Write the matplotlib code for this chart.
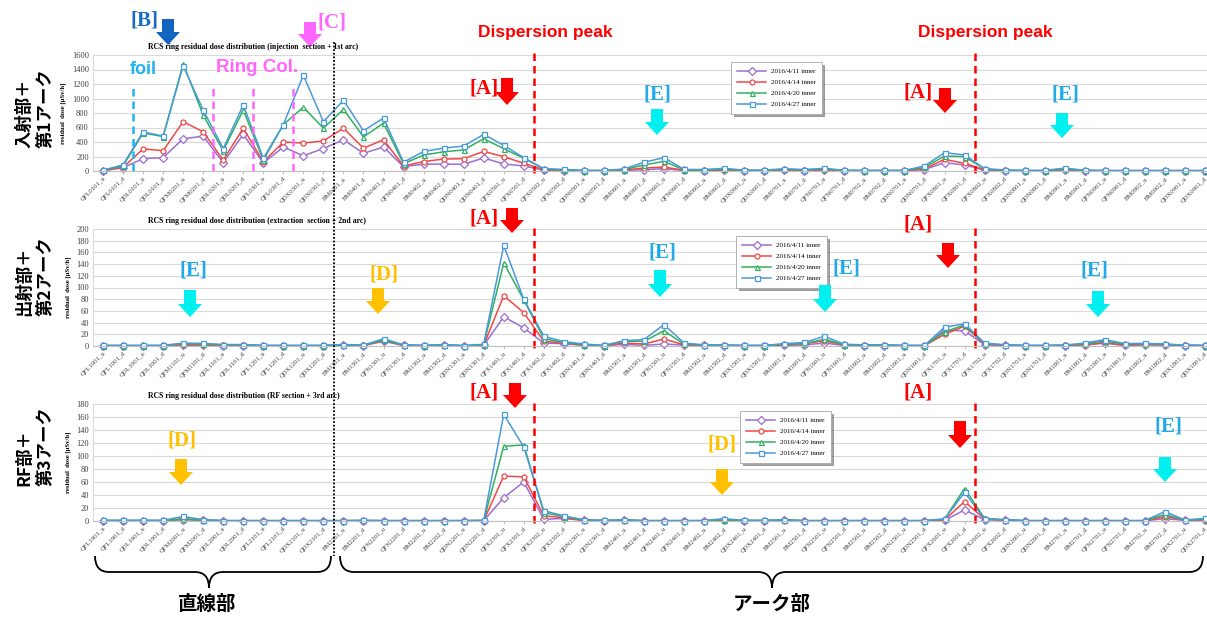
import matplotlib
matplotlib.use('Agg')
import matplotlib.pyplot as plt
from matplotlib.patches import Polygon, PathPatch
from matplotlib.path import Path
import numpy as np

plt.rcParams['font.family'] = ['Liberation Serif', 'DejaVu Serif']

W, H = 1207, 617

# magnet layout of one superperiod; {0}..{8} are the sector numbers
MAGNETS = ['QFL{0}01', 'QDL{0}01', 'QFM{1}01', 'QDL{1}01', 'QFL{2}01', 'QDX{2}01',
           'BM{3}01', 'QFN{3}01', 'BM{3}02', 'QDN{3}01', 'QFX{4}01', 'QFX{4}02',
           'QDN{4}01', 'BM{5}01', 'QFN{5}01', 'BM{5}02', 'QDX{5}01', 'BM{6}01',
           'QFN{6}01', 'BM{6}02', 'QDN{6}01', 'QFX{7}01', 'QFX{7}02', 'QDN{7}01',
           'BM{8}01', 'QFN{8}01', 'BM{8}02', 'QDX{8}01']


def make_labels(first_sector):
    secs = ['%02d' % (first_sector + i) for i in range(9)]
    out = []
    for m in MAGNETS:
        name = m.format(*secs)
        out += [name + '_u', name + '_d']
    return out


labels_inj = make_labels(1)
labels_ext = make_labels(10)
labels_rf = make_labels(19)

series_names = ['2016/4/11 inner', '2016/4/14 inner', '2016/4/20 inner', '2016/4/27 inner']
colors = ['#9B6FCF', '#F04848', '#30B060', '#4A9AD8']
markers = ['D', 'o', '^', 's']

# injection section + 1st arc [uSv/h]
inj_0411 = [5, 45, 170, 185, 445, 480, 115, 505, 110, 330, 210, 310, 430, 245, 330, 60,
            95, 95, 92, 180, 97, 69, 12, 5, 3, 3, 8, 18, 32, 8, 6, 10, 4, 4, 10, 6,
            12, 4, 3, 3, 3, 20, 115, 83, 12, 5, 3, 3, 12, 4, 3, 3, 3, 3, 3, 3]
inj_0414 = [5, 50, 305, 280, 680, 540, 150, 590, 125, 400, 385, 415, 590, 315, 430, 70,
            130, 165, 170, 270, 198, 106, 18, 8, 5, 4, 12, 41, 55, 10, 8, 15, 6, 6, 15, 10,
            18, 6, 5, 5, 4, 30, 160, 106, 18, 8, 4, 4, 25, 6, 4, 4, 4, 4, 4, 4]
inj_0420 = [8, 70, 525, 475, 1480, 770, 280, 840, 150, 640, 880, 590, 850, 470, 660, 100,
            220, 265, 290, 445, 308, 175, 28, 12, 6, 6, 18, 83, 133, 15, 12, 25, 8, 8, 22, 15,
            28, 8, 6, 6, 6, 50, 207, 198, 28, 10, 6, 6, 30, 8, 5, 5, 5, 5, 5, 5]
inj_0427 = [10, 85, 540, 480, 1450, 840, 310, 910, 175, 640, 1320, 680, 975, 555, 730, 120,
            270, 315, 345, 505, 354, 184, 32, 22, 8, 8, 28, 120, 184, 22, 20, 37, 12, 12, 32, 20,
            37, 10, 8, 8, 8, 69, 253, 221, 32, 14, 8, 8, 40, 10, 7, 7, 7, 7, 7, 7]

# extraction section + 2nd arc
ext_0411 = [0.5, 0.5, 0.5, 0.5, 1, 1, 0.8, 0.8, 0.5, 0.5, 0.5, 0.5, 1, 0.8, 8, 1,
            0.5, 1, 0.3, 1, 50, 31, 5, 4, 1, 0.5, 3, 1, 3.5, 1.5, 1, 0.8, 0.5, 0.5, 1, 2,
            5, 1, 0.8, 0.8, 0.5, 0.5, 27, 26, 2, 1, 0.5, 0.5, 0.8, 1.5, 5, 1, 2, 1.5, 0.8, 0.5]
ext_0414 = [0.5, 0.5, 0.5, 0.5, 2, 1.5, 1, 1, 0.5, 0.5, 0.5, 0.5, 1, 1, 9, 1.2,
            0.6, 1.5, 0.4, 1.2, 86, 57, 8, 5, 1.5, 0.6, 5, 3.5, 12, 2, 1, 1, 0.6, 0.6, 2, 4,
            9, 1.5, 1, 1, 0.6, 0.6, 20, 34, 3, 1.5, 0.6, 0.6, 1, 2, 6, 1, 3, 2, 1, 0.6]
ext_0420 = [0.8, 0.8, 0.8, 0.8, 4, 3, 2, 2, 0.8, 0.8, 0.8, 0.8, 2, 1.2, 10, 1.5,
            0.8, 2, 0.5, 2, 142, 79, 12.5, 6, 2, 0.8, 8, 8, 26, 3, 1.5, 1.2, 0.8, 0.8, 3, 4,
            11.5, 2, 1.5, 1.5, 0.8, 0.8, 24, 36, 4, 2, 0.8, 0.8, 1.2, 3.5, 8.5, 3, 4, 3, 1.2, 0.8]
ext_0427 = [1, 1, 1, 1, 5, 4.5, 2.5, 2.5, 1, 1, 1, 1, 2.5, 1.5, 12.5, 2,
            1, 2.5, 0.6, 3, 172, 80, 16.5, 7.5, 3.5, 1, 9, 11, 36.5, 5, 2, 1.5, 1, 1, 4, 6,
            16.5, 3, 2, 2, 1, 1, 32, 38, 5, 2, 1, 1, 1.5, 5, 11, 4, 4.5, 3.5, 1.5, 1]

# RF section + 3rd arc
rf_0411 = [0.5, 0.5, 0.5, 0.5, 2, 1, 0.3, 0.3, 0.3, 0.3, 0.3, 0.3, 0.3, 0.5, 0.3, 0.3,
           0.3, 0.3, 0.3, 0.5, 36, 60, 2.6, 4, 0.8, 0.5, 0.8, 0.3, 0.3, 0.3, 0.3, 1, 0.5, 0.5,
           1, 0.3, 0.3, 0.3, 0.3, 0.3, 0.3, 0.3, 1, 17, 2, 1, 0.3, 0.3, 0.3, 0.3, 0.3, 0.3,
           0.3, 3.6, 1, 1.5]
rf_0414 = [0.5, 0.5, 0.5, 0.5, 3.5, 1.5, 0.4, 0.4, 0.4, 0.4, 0.4, 0.4, 0.4, 0.6, 0.4, 0.4,
           0.4, 0.4, 0.4, 0.6, 69, 68, 8, 5, 1, 0.6, 1, 0.4, 0.4, 0.4, 0.4, 1.5, 0.6, 0.6,
           1, 0.4, 0.4, 0.4, 0.4, 0.4, 0.4, 0.4, 1.5, 30, 3, 1.5, 0.4, 0.4, 0.4, 0.4, 0.4, 0.4,
           0.4, 6.7, 2, 2]
rf_0420 = [0.8, 0.8, 0.8, 0.8, 2.6, 1.5, 0.5, 0.5, 0.5, 0.5, 0.5, 0.5, 0.5, 0.8, 0.5, 0.5,
           0.5, 0.5, 0.5, 0.8, 115, 117, 13, 6.7, 1.5, 0.8, 1.5, 0.5, 0.5, 0.5, 0.5, 2, 0.8, 0.8,
           1.5, 0.5, 0.5, 0.5, 0.5, 0.5, 0.5, 0.5, 3, 50, 4, 2, 0.5, 0.5, 0.5, 0.5, 0.5, 0.5,
           0.5, 10, 1.5, 3]
rf_0427 = [1, 1, 1, 1, 7, 2, 0.7, 0.7, 0.7, 0.7, 0.7, 0.7, 0.7, 1, 0.7, 0.7,
           0.7, 0.7, 0.7, 1, 164, 114, 16, 7.7, 2, 1, 2, 0.7, 0.7, 0.7, 0.7, 3.6, 1, 1,
           2, 0.7, 0.7, 0.7, 0.7, 0.7, 0.7, 0.7, 3, 44, 3, 2, 0.7, 0.7, 0.7, 0.7, 0.7, 0.7,
           0.7, 14.5, 1.5, 4]

panels = [
    ('RCS ring residual dose distribution (injection  section + 1st arc)', labels_inj,
     [inj_0411, inj_0414, inj_0420, inj_0427], 1600, 200, 55, 171, 731, 62),
    ('RCS ring residual dose distribution (extraction  section + 2nd arc)', labels_ext,
     [ext_0411, ext_0414, ext_0420, ext_0427], 200, 20, 229, 346, 736, 236),
    ('RCS ring residual dose distribution (RF section + 3rd arc)', labels_rf,
     [rf_0411, rf_0414, rf_0420, rf_0427], 180, 20, 404, 521, 740, 411),
]

fig = plt.figure(figsize=(W / 100, H / 100), dpi=100)

ax_left, ax_right = 93, 1215
axes = []
for title, labels, data, ymax, ystep, ytop, ybot, legx, legy in panels:
    ax = fig.add_axes([ax_left / W, 1 - ybot / H, (ax_right - ax_left) / W, (ybot - ytop) / H])
    x = np.arange(len(labels))
    for vals, name, c, m in zip(data, series_names, colors, markers):
        ax.plot(x, vals, color=c, lw=1.1, marker=m, ms=3.6, mfc='white', mec=c, mew=0.9,
                label=name, clip_on=False)
    ax.set_xlim(-0.5, len(labels) - 0.5)
    ax.set_ylim(0, ymax)
    ax.set_yticks(np.arange(0, ymax + 1, ystep))
    ax.set_xticks(x)
    ax.set_xticklabels(labels, rotation=45, ha='right', va='top', rotation_mode='anchor',
                       fontsize=4.8, color='#404040')
    ax.tick_params(axis='y', labelsize=6, colors='#404040', length=0, pad=3)
    ax.tick_params(axis='x', length=2, color='#BFBFBF', pad=1.5)
    ax.grid(axis='y', color='#D9D9D9', lw=0.8)
    ax.set_axisbelow(True)
    for s in ['top', 'right']:
        ax.spines[s].set_visible(False)
    ax.spines['left'].set_color('#D9D9D9')
    ax.spines['bottom'].set_color('#BFBFBF')
    ax.set_ylabel('residual  dose [μSv/h]', fontsize=4.8, fontweight='bold', labelpad=4)
    fig.text(148 / W, 1 - (ytop - 8) / H, title, fontsize=5.6, fontweight='bold',
             ha='left', va='center')
    leg = ax.legend(loc='upper left', bbox_to_anchor=(legx / W, 1 - legy / H),
                    bbox_transform=fig.transFigure, fontsize=5, frameon=True, shadow=True,
                    fancybox=False, handlelength=4.2, borderpad=0.9, labelspacing=0.75,
                    edgecolor='#A6A6A6', borderaxespad=0, handletextpad=0.6)
    leg.get_frame().set_linewidth(0.6)
    # dispersion peak positions
    for xd in [21.5, 43.5]:
        ax.axvline(xd, ymin=-0.02, ymax=1.02, color='#FF0000', ls=(0, (3, 2)), lw=1.8, clip_on=False)
    axes.append(ax)

# foil and ring collimator positions in the injection section
axes[0].axvline(1.5, ymin=0, ymax=0.74, color='#1EB4F0', ls=(0, (3, 2)), lw=1.8)
for xc in [5.5, 7.5, 9.5]:
    axes[0].axvline(xc, ymin=0, ymax=0.74, color='#FF66FF', ls=(0, (3, 2)), lw=1.8)

# overlay in pixel coordinates for the annotations
ov = fig.add_axes([0, 0, 1, 1])
ov.set_xlim(0, W)
ov.set_ylim(H, 0)
ov.axis('off')
ov.patch.set_alpha(0)


def down_arrow(x, y0, y1, color, sw=12, hw=24, hh=13):
    pts = [(x - sw / 2, y0), (x + sw / 2, y0), (x + sw / 2, y1 - hh), (x + hw / 2, y1 - hh),
           (x, y1), (x - hw / 2, y1 - hh), (x - sw / 2, y1 - hh)]
    ov.add_patch(Polygon(pts, closed=True, fc=color, ec='none', zorder=5))


def tag(x, y, s, color):
    ov.text(x, y, s, color=color, fontsize=15, fontweight='bold', ha='center', va='center',
            zorder=6)


RED, CYAN_T, CYAN_A, ORANGE = '#FF0000', '#22AAE8', '#00F0F0', '#FFC000'

# black dotted boundary between straight section and arc
ov.plot([334, 334], [42, 556], color='black', ls=(0, (1, 1)), lw=1.3)

tag(144, 20, '[B]', '#1A6BC4')
down_arrow(168, 19, 45, '#1565C0')
tag(332, 22, '[C]', '#FF66FF')
down_arrow(310, 22, 47, '#FF66FF')
ov.text(143, 69, 'foil', color='#1EB4F0', fontsize=13, fontweight='bold', ha='center',
        va='center', family=['Liberation Sans'])
ov.text(257, 67, 'Ring Col.', color='#FF66FF', fontsize=13.5, fontweight='bold', ha='center',
        va='center', family=['Liberation Sans'])
for xp in [545, 985]:
    ov.text(xp, 33, 'Dispersion peak', color=RED, fontsize=12.5, fontweight='bold',
            ha='center', va='center', family=['Liberation Sans'])

# [A] beam loss marks
tag(484, 89, '[A]', RED); down_arrow(507, 78, 105, RED)
tag(918, 92, '[A]', RED); down_arrow(945, 88, 113, RED)
tag(484, 219, '[A]', RED); down_arrow(512, 208, 233, RED)
tag(918, 224, '[A]', RED); down_arrow(948, 243, 268, RED)
tag(484, 392, '[A]', RED); down_arrow(515, 383, 408, RED)
tag(918, 392, '[A]', RED); down_arrow(960, 421, 448, RED)

# [E] marks
tag(657, 95, '[E]', CYAN_T); down_arrow(657, 109, 135, CYAN_A)
tag(1065, 94, '[E]', CYAN_T); down_arrow(1062, 113, 138, CYAN_A)
tag(193, 270, '[E]', CYAN_T); down_arrow(190, 290, 317, CYAN_A)
tag(662, 253, '[E]', CYAN_T); down_arrow(660, 270, 297, CYAN_A)
tag(846, 268, '[E]', CYAN_T); down_arrow(825, 285, 312, CYAN_A)
tag(1094, 270, '[E]', CYAN_T); down_arrow(1098, 291, 317, CYAN_A)
tag(1168, 426, '[E]', CYAN_T); down_arrow(1165, 457, 482, CYAN_A)

# [D] marks
tag(384, 274, '[D]', ORANGE); down_arrow(378, 288, 314, ORANGE)
tag(182, 441, '[D]', ORANGE); down_arrow(181, 459, 485, ORANGE)
tag(722, 444, '[D]', ORANGE); down_arrow(722, 469, 495, ORANGE)

# section names on the left
jp = ['Noto Sans CJK JP', 'DejaVu Sans']
for yc, s in [(108, '入射部＋\n第1アーク'), (276, '出射部＋\n第2アーク'), (446, 'RF部＋\n第3アーク')]:
    ov.text(35, yc, s, rotation=90, fontsize=12.5, fontweight='bold', ha='center', va='center',
            family=jp, linespacing=1.25, multialignment='left')


def brace(x0, x1, xm, ytop=556, ymid=572, ybot=588, r=14):
    verts = [(x0, ytop), (x0, ymid), (x0 + r, ymid), (xm - r, ymid), (xm, ymid), (xm, ybot),
             (xm, ymid), (xm + r, ymid), (x1 - r, ymid), (x1, ymid), (x1, ytop)]
    codes = [Path.MOVETO, Path.CURVE3, Path.CURVE3, Path.LINETO, Path.CURVE3, Path.CURVE3,
             Path.CURVE3, Path.CURVE3, Path.LINETO, Path.CURVE3, Path.CURVE3]
    ov.add_patch(PathPatch(Path(verts, codes), fc='none', ec='black', lw=1.3))


brace(95, 331, 209)
brace(340, 1203, 772)
ov.text(207, 604, '直線部', fontsize=14, fontweight='bold', ha='center', va='center', family=jp)
ov.text(772, 604, 'アーク部', fontsize=14, fontweight='bold', ha='center', va='center', family=jp)

fig.savefig('out.png', dpi=100)
